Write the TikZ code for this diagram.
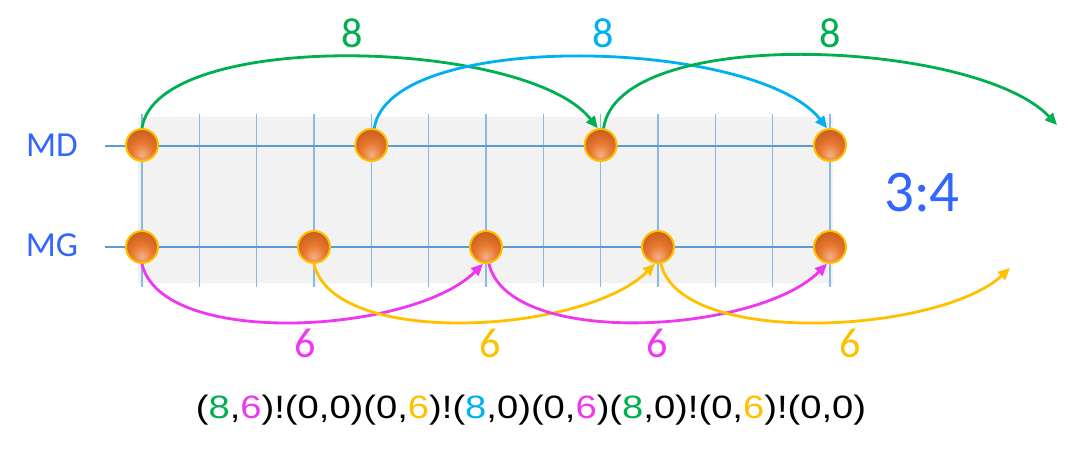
\documentclass[tikz,border=0pt]{standalone}
\usepackage{fontspec}
\setmainfont{Carlito}
\newfontfamily\swapfont{Liberation Sans}[FakeStretch=1.18]
\usetikzlibrary{arrows.meta}

\definecolor{gridblue}{HTML}{5B9BD5}
\definecolor{txtblue}{HTML}{3366FF}
\definecolor{jgreen}{HTML}{00B050}
\definecolor{jcyan}{HTML}{00B0F0}
\definecolor{jmagenta}{HTML}{F037F0}
\definecolor{jyellow}{HTML}{FFC000}
\definecolor{balllight}{HTML}{F4B183}
\definecolor{ballmid}{HTML}{E87830}
\definecolor{balldark}{HTML}{BA5216}
\pgfdeclareradialshading{orangeball}{\pgfpoint{0bp}{-16bp}}{%
  color(0bp)=(balllight); color(16bp)=(ballmid);
  color(40bp)=(balldark); color(70bp)=(balldark)}

\begin{document}
\begin{tikzpicture}[x=0.025cm, y=-0.025cm,
    ball/.style={circle, draw=jyellow, line width=1.4pt, shading=orangeball,
                 minimum size=0.8cm, inner sep=0pt},
    hline/.style={gridblue, line width=0.8pt},
    vline/.style={gridblue!70, line width=0.9pt},
    jump/.style={line width=2pt, -{Triangle[length=8.5pt,width=7.5pt]}},
    num/.style={font=\fontsize{30}{34}\selectfont},
    row/.style={txtblue, font=\fontsize{25}{30}\selectfont}
]
\useasboundingbox (0,0) rectangle (1070,451);

% =========================
% Grid
% =========================
\fill[black!5] (138,117) rectangle (833,283);

% beats
\foreach \i in {0,...,12}
    \draw[vline] ({142+\i*57.33},114) -- ({142+\i*57.33},287);

% rows
\draw[hline] (105,146) -- (833,146);
\draw[hline] (105,247) -- (833,247);

\node[row] (mdlabel) at (52,145) {MD};
\node[row] (mglabel) at (52,245) {MG};

% =========================
% Balls
% =========================
\foreach \i [count=\k from 0] in {0,4,8,12}
    \node[ball] (md\k) at ({142+\i*57.33},145) {};
\foreach \i [count=\k from 0] in {0,3,6,9,12}
    \node[ball] (mg\k) at ({142+\i*57.33},247) {};

\coordinate (mdend) at (1057,125);
\coordinate (mgend) at (1010,268);

% =========================
% Throws of 8 (MD)
% =========================
\draw[jump, jgreen] (md0.north) .. controls +(15,-100) and +(-70,-90) .. (md2.100);
\draw[jump, jcyan] (md1.80) .. controls +(15,-100) and +(-70,-90) .. (md3.100);
\draw[jump, jgreen] (md2.80) .. controls +(15,-105) and +(-80,-85) .. (mdend);

\node[num, jgreen] (eighta) at (352,33) {8};
\node[num, jcyan] (eightb) at (603,33) {8};
\node[num, jgreen] (eightc) at (830,33) {8};

% =========================
% Throws of 6 (MG)
% =========================
\draw[jump, jmagenta] (mg0.south) .. controls +(20,85) and +(-70,70) .. (mg2.260);
\draw[jump, jyellow] (mg1.south) .. controls +(20,85) and +(-70,70) .. (mg3.260);
\draw[jump, jmagenta] (mg2.280) .. controls +(20,85) and +(-70,70) .. (mg4.260);
\draw[jump, jyellow] (mg3.280) .. controls +(20,85) and +(-70,65) .. (mgend);

\node[num, jmagenta] (sixa) at (305,343) {6};
\node[num, jyellow] (sixb) at (490,343) {6};
\node[num, jmagenta] (sixc) at (657,343) {6};
\node[num, jyellow] (sixd) at (850,343) {6};

% ratio and siteswap
\node[txtblue, font=\fontsize{42}{46}\selectfont] (ratio) at (922,193) {3:4};
\node[font=\swapfont\fontsize{23}{28}\selectfont] (swap) at (531,410)
    {(\textcolor{jgreen}{8},\textcolor{jmagenta}{6})!(0,0)(0,\textcolor{jyellow}{6})!(\textcolor{jcyan}{8},0)(0,\textcolor{jmagenta}{6})(\textcolor{jgreen}{8},0)!(0,\textcolor{jyellow}{6})!(0,0)};

\end{tikzpicture}
\end{document}
